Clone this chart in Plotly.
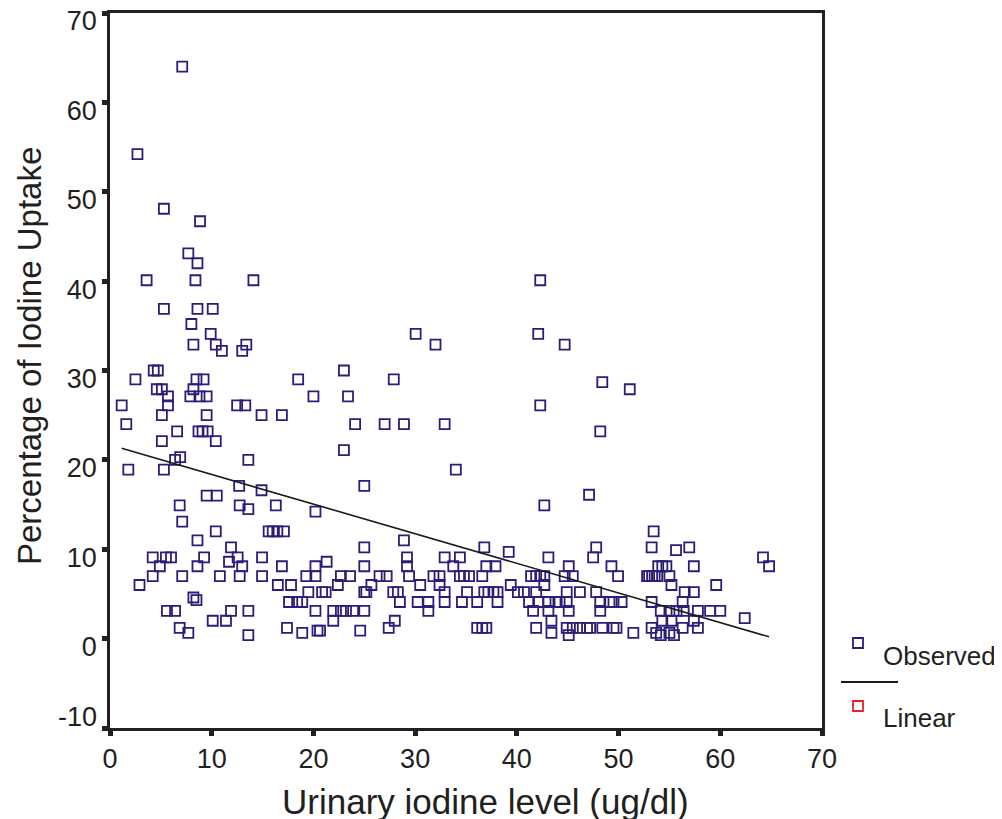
import plotly.graph_objects as go

# Observed data (urinary iodine ug/dl, iodine uptake %)
obs_x = [
    7.1, 2.7, 5.3, 8.85, 7.7, 8.6, 3.6, 8.4, 14.1, 42.3,
    5.3, 8.6, 10.1, 8.0, 9.9, 8.2, 10.4, 11.0, 13.0, 13.4,
    4.3, 4.7, 2.5, 8.5, 9.2, 18.5, 23.0, 4.6, 5.1, 8.2,
    5.7, 7.9, 8.8, 9.5, 20.0, 23.4, 1.15, 5.7, 12.5, 13.3,
    5.1, 9.5, 14.9, 16.9, 1.6, 6.6, 8.7, 9.1, 9.6, 5.1,
    10.4, 23.0, 6.4, 6.9, 13.6, 1.8, 5.3, 12.7, 14.9, 9.5,
    10.5, 6.85, 12.75, 13.6, 16.3, 20.2, 7.1, 10.4, 15.6, 16.0,
    16.45, 17.1, 8.6, 11.9, 4.2, 5.5, 6.0, 9.25, 12.55, 14.95,
    21.3, 4.9, 8.6, 11.7, 13.0, 16.9, 20.2, 4.2, 7.1, 10.8,
    12.75, 14.95, 19.3, 20.2, 22.7, 23.6, 2.9, 16.5, 17.8, 22.4,
    8.2, 8.5, 19.5, 20.85, 21.2, 17.6, 18.4, 18.9, 5.6, 6.4,
    11.9, 13.6, 20.2, 21.95, 22.7, 23.2, 23.9, 25.0, 10.1, 11.4,
    21.95, 6.85, 7.7, 13.6, 17.4, 18.9, 20.4, 20.65,
    30.05, 32.0, 42.1, 44.7, 27.9, 42.3, 24.1, 27.0, 28.9, 32.9,
    34.0, 25.0, 42.7, 47.1, 28.9, 25.0, 36.8, 39.2, 29.2, 32.9,
    34.4, 43.1, 47.5, 47.8, 25.0, 29.2, 33.75, 37.0, 37.9, 45.1,
    26.5, 27.2, 29.4, 31.8, 32.4, 34.4, 34.8, 35.3, 36.6, 41.4,
    41.9, 42.3, 42.7, 44.7, 45.5, 25.7, 30.5, 32.4, 39.4, 42.7,
    25.0, 25.2, 27.85, 28.3, 32.9, 35.1, 36.8, 37.2, 37.7, 38.1,
    40.1, 40.7, 41.9, 44.9, 46.2, 28.5, 30.25, 31.3, 32.9, 34.6,
    36.1, 38.1, 41.2, 42.1, 43.1, 43.8, 44.2, 44.9, 31.3, 41.6,
    43.1, 45.1, 28.0, 43.4, 24.6, 27.4, 36.1, 36.6, 37.0, 41.9,
    43.4, 44.9, 45.5, 46.2, 46.9, 47.2, 45.1,
    48.4, 51.1, 48.2, 53.45, 53.25, 55.65, 56.95, 49.3, 49.95, 53.9,
    54.3, 54.7, 52.8, 53.0, 53.3, 53.55, 53.8, 55.0, 55.2, 57.4,
    59.6, 64.2, 64.8, 47.8, 48.2, 49.1, 49.5, 50.3, 48.2, 53.25,
    56.5, 57.4, 56.3, 54.15, 55.0, 55.7, 56.4, 57.8, 59.0, 60.0,
    54.3, 55.2, 57.4, 62.4, 48.4, 49.5, 49.8, 51.45, 53.25, 53.7,
    54.15, 55.0, 55.45, 56.3, 57.8,
]
obs_y = [
    64.0, 54.2, 48.1, 46.7, 43.1, 42.0, 40.1, 40.1, 40.1, 40.1,
    36.9, 36.9, 36.9, 35.2, 34.1, 32.9, 32.9, 32.2, 32.2, 32.9,
    30.0, 30.0, 29.0, 29.0, 29.0, 29.0, 30.0, 27.9, 27.9, 27.9,
    27.1, 27.1, 27.1, 27.1, 27.1, 27.1, 26.1, 26.1, 26.1, 26.1,
    25.0, 25.0, 25.0, 25.0, 24.0, 23.2, 23.2, 23.2, 23.2, 22.1,
    22.1, 21.1, 20.0, 20.3, 20.0, 18.9, 18.9, 17.1, 16.6, 16.0,
    16.0, 14.9, 14.9, 14.5, 14.9, 14.2, 13.1, 12.0, 12.0, 12.0,
    12.0, 12.0, 11.0, 10.2, 9.1, 9.1, 9.1, 9.1, 9.1, 9.1,
    8.6, 8.1, 8.1, 8.6, 8.1, 8.1, 8.1, 7.0, 7.0, 7.0,
    7.0, 7.0, 7.0, 7.0, 7.0, 7.0, 6.0, 6.0, 6.0, 6.0,
    4.6, 4.3, 5.2, 5.2, 5.2, 4.1, 4.1, 4.1, 3.1, 3.1,
    3.1, 3.1, 3.1, 3.1, 3.1, 3.1, 3.1, 3.1, 2.0, 2.0,
    2.0, 1.2, 0.65, 0.4, 1.2, 0.65, 0.9, 0.9,
    34.1, 32.9, 34.1, 32.9, 29.0, 26.1, 24.0, 24.0, 24.0, 24.0,
    18.9, 17.1, 14.9, 16.1, 11.0, 10.2, 10.2, 9.7, 9.1, 9.1,
    9.1, 9.1, 9.1, 10.2, 8.1, 8.1, 8.1, 8.1, 8.1, 8.1,
    7.0, 7.0, 7.0, 7.0, 7.0, 7.0, 7.0, 7.0, 7.0, 7.0,
    7.0, 7.0, 7.0, 7.0, 7.0, 6.0, 6.0, 6.0, 6.0, 6.0,
    5.2, 5.2, 5.2, 5.2, 5.2, 5.2, 5.2, 5.2, 5.2, 5.2,
    5.2, 5.2, 5.2, 5.2, 5.2, 4.1, 4.1, 4.1, 4.1, 4.1,
    4.1, 4.1, 4.1, 4.1, 4.1, 4.1, 4.1, 4.1, 3.1, 3.1,
    3.1, 3.1, 2.0, 2.0, 0.9, 1.2, 1.2, 1.2, 1.2, 1.2,
    0.65, 1.2, 1.2, 1.2, 1.2, 1.2, 0.4,
    28.7, 27.9, 23.2, 12.0, 10.2, 9.9, 10.2, 8.1, 7.0, 8.1,
    8.1, 8.1, 7.0, 7.0, 7.0, 7.0, 7.0, 7.0, 6.0, 8.1,
    6.0, 9.1, 8.1, 5.2, 4.1, 4.1, 4.1, 4.1, 3.1, 4.1,
    5.2, 5.2, 4.1, 3.1, 3.1, 3.1, 3.1, 3.1, 3.1, 3.1,
    2.0, 2.0, 2.0, 2.3, 1.2, 1.2, 1.2, 0.65, 1.2, 0.65,
    0.4, 0.65, 0.4, 1.2, 1.2,
]

# Linear fit line endpoints
fit_x = [1.15, 64.8]
fit_y = [21.3, 0.2]

x_ticks = [0, 10, 20, 30, 40, 50, 60, 70]
y_ticks = [-10, 0, 10, 20, 30, 40, 50, 60, 70]
# the lowest y label sits slightly above its tick in the original; drawn separately
y_ticktext = ["" if v == -10 else str(v) for v in y_ticks]

x_title = "Urinary iodine level (ug/dl)"
y_title = "Percentage of Iodine Uptake"

navy = "#2a1f78"
axis_col = "#231f20"
txt_col = "#231f20"
font_fam = "Liberation Sans, Arial, sans-serif"
tick_size = 27

fig = go.Figure()
fig.add_trace(go.Scatter(
    x=obs_x, y=obs_y, mode="markers", name="Observed",
    marker=dict(symbol="square-open", size=10, color=navy,
                line=dict(color=navy, width=1.8)),
    showlegend=False,
))
fig.add_trace(go.Scatter(
    x=fit_x, y=fit_y, mode="lines", name="Linear",
    line=dict(color="#1a1a1a", width=1.6), showlegend=False,
))

# page renders the figure with an 8px body offset; margins compensate
W, H = 1002, 819
pl, pr, pt, pb = 102, 188, 5, 99
pw, ph = W - pl - pr, H - pt - pb
OFF = 8

fig.update_layout(
    width=W, height=H,
    margin=dict(l=pl, r=pr, t=pt, b=pb, autoexpand=False),
    paper_bgcolor="white", plot_bgcolor="white",
    font=dict(family=font_fam, color=txt_col),
    xaxis=dict(
        range=[0, 70], tickvals=x_ticks, ticktext=[str(v) for v in x_ticks],
        showgrid=False, zeroline=False, showline=True, mirror=True,
        linecolor=axis_col, linewidth=2.5, automargin=False,
        ticklabeloverflow="allow",
        ticks="outside", ticklen=5, tickwidth=5, tickcolor=axis_col,
        tickfont=dict(size=tick_size, family=font_fam, color=txt_col),
    ),
    yaxis=dict(
        range=[-10, 70], tickvals=y_ticks, ticktext=y_ticktext,
        showgrid=False, zeroline=False, showline=True, mirror=True,
        linecolor=axis_col, linewidth=2.5, automargin=False,
        ticklabeloverflow="allow", ticklabelshift=8,
        ticks="outside", ticklen=5, tickwidth=5, tickcolor=axis_col,
        tickfont=dict(size=tick_size, family=font_fam, color=txt_col),
    ),
)

# screen-pixel helpers (account for the page offset)
def px(xp):
    return (xp - OFF - pl) / pw

def py(yp):
    return (H - pb - (yp - OFF)) / ph

# lowest y tick label
fig.add_annotation(xref="paper", yref="paper", x=px(99), y=py(717),
                   text=str(y_ticks[0]), showarrow=False, xanchor="right",
                   yanchor="middle",
                   font=dict(size=tick_size, family=font_fam, color=txt_col))

# axis titles
fig.add_annotation(xref="paper", yref="paper", x=px(485), y=py(801),
                   text=x_title, showarrow=False, xanchor="center",
                   yanchor="middle",
                   font=dict(size=35, family=font_fam, color=txt_col))
fig.add_annotation(xref="paper", yref="paper", x=px(29), y=py(356),
                   text=y_title, showarrow=False, xanchor="center",
                   yanchor="middle", textangle=-90,
                   font=dict(size=33, family=font_fam, color=txt_col))

# Custom SPSS-style legend (outside right of plot)
fig.add_shape(type="rect", xref="paper", yref="paper",
              x0=px(853), x1=px(863), y0=py(638), y1=py(648),
              line=dict(color=navy, width=1.8))
fig.add_shape(type="line", xref="paper", yref="paper",
              x0=px(841), x1=px(898), y0=py(682), y1=py(682),
              line=dict(color="#1a1a1a", width=2))
fig.add_shape(type="rect", xref="paper", yref="paper",
              x0=px(853), x1=px(863), y0=py(701), y1=py(711),
              line=dict(color="#e8202a", width=1.8))
fig.add_annotation(xref="paper", yref="paper", x=px(881), y=py(656),
                   text="Observed", showarrow=False, xanchor="left",
                   yanchor="middle",
                   font=dict(size=26, family=font_fam, color=txt_col))
fig.add_annotation(xref="paper", yref="paper", x=px(881), y=py(718),
                   text="Linear", showarrow=False, xanchor="left",
                   yanchor="middle",
                   font=dict(size=26, family=font_fam, color=txt_col))

fig.write_html("out.html")
